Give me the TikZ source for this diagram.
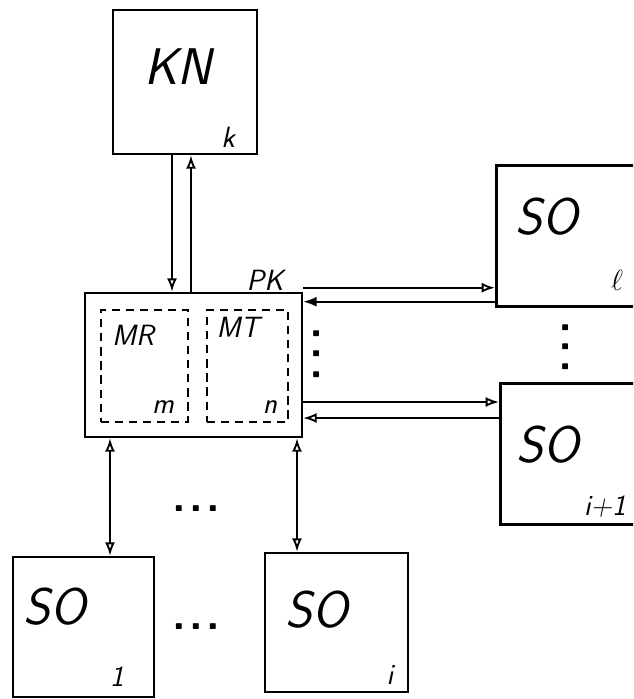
\documentclass[tikz,border=0pt]{standalone}
\usepackage{fontspec}
\usetikzlibrary{arrows.meta,positioning,calc}

\begin{document}
\begin{tikzpicture}[x=0.03cm,y=-0.03cm,>={Latex[open,length=4mm,width=3mm]},
  box/.style={draw,line width=2.2pt,inner sep=0pt},
  dbox/.style={draw,line width=1.8pt,dash pattern=on 7pt off 5pt,inner sep=0pt},
  big/.style={font=\sffamily\itshape\fontsize{44}{44}\selectfont,inner sep=0pt},
  sub/.style={font=\sffamily\itshape\fontsize{25}{25}\selectfont,inner sep=0pt},
  dotsrow/.style={font=\sffamily\bfseries\fontsize{38}{38}\selectfont,inner sep=0pt},
  wire/.style={line width=1.6pt}]
  \path[use as bounding box,clip] (0,0) rectangle (633,699);
  % blocks
  \node[box,minimum width=4.32cm,minimum height=4.32cm] (kn) at (185,82) {};
  \node[box,minimum width=6.51cm,minimum height=4.32cm] (pk) at (193.5,365) {};
  \node[dbox,minimum width=2.61cm,minimum height=3.36cm] (mr) at (144.5,366) {};
  \node[dbox,minimum width=2.43cm,minimum height=3.36cm] (mt) at (247.5,366) {};
  \node[box,minimum width=4.95cm,minimum height=4.23cm,anchor=north west] (sol) at (495,164) {};
  \node[box,minimum width=4.83cm,minimum height=4.23cm,anchor=north west] (soj) at (499,382) {};
  \node[box,minimum width=4.23cm,minimum height=4.2cm] (so1) at (83.5,627) {};
  \node[box,minimum width=4.29cm,minimum height=4.17cm] (soi) at (336.5,622.5) {};
  % labels
  \node[big] (knt) at (178,67) {KN};
  \node[sub] (knk) at (228,137) {k};
  \node[sub] (pkt) at (265,280) {PK};
  \node[sub] (mrt) at (133,335) {MR};
  \node[sub] (mrm) at (163,407) {m};
  \node[sub] (mtt) at (238,327) {MT};
  \node[sub] (mtn) at (270,407) {n};
  \node[big] (solt) at (547,217) {SO};
  \node[sub] (soll) at (617,280) {$\ell$};
  \node[big] (sojt) at (548,445) {SO};
  \node[sub] (sojn) at (605,507) {i+1};
  \node[big] (so1t) at (55,607) {SO};
  \node[sub] (so1n) at (117,677) {1};
  \node[big] (soit) at (317,610) {SO};
  \node[sub] (soin) at (390,675) {i};
  \node[dotsrow,rotate=90] (vd1) at (317,354) {.\kern6pt.\kern6pt.};
  \node[dotsrow,rotate=90] (vd2) at (566,347) {.\kern5pt.\kern5pt.};
  \node[dotsrow] (hd1) at (196,509) {.\kern3pt.\kern3pt.};
  \node[dotsrow] (hd2) at (196,627) {.\kern3pt.\kern3pt.};
  % links
  \draw[wire,->] ([xshift=-0.39cm]kn.south) -- ([xshift=-0.39cm]kn.south |- pk.north);
  \draw[wire,->] ([xshift=0.18cm]kn.south |- pk.north) -- ([xshift=0.18cm]kn.south);
  \draw[wire,->] ([yshift=0.12cm]pk.north east) -- ([yshift=0.12cm]pk.north east -| sol.west);
  \draw[wire,-{Latex[length=4mm,width=3mm]}] ([yshift=-0.3cm]pk.north east -| sol.west) -- ([yshift=-0.3cm]pk.north east);
  \draw[wire,->] ([yshift=-1.11cm]pk.east) -- ([yshift=-1.11cm]pk.east -| soj.west);
  \draw[wire,->] ([yshift=-1.59cm]pk.east -| soj.west) -- ([yshift=-1.59cm]pk.east);
  \draw[wire,<->] ([xshift=-2.505cm]pk.south) -- ([xshift=-2.505cm]pk.south |- so1.north);
  \draw[wire,<->] ([xshift=3.105cm]pk.south) -- ([xshift=3.105cm]pk.south |- soi.north);
\end{tikzpicture}
\end{document}
